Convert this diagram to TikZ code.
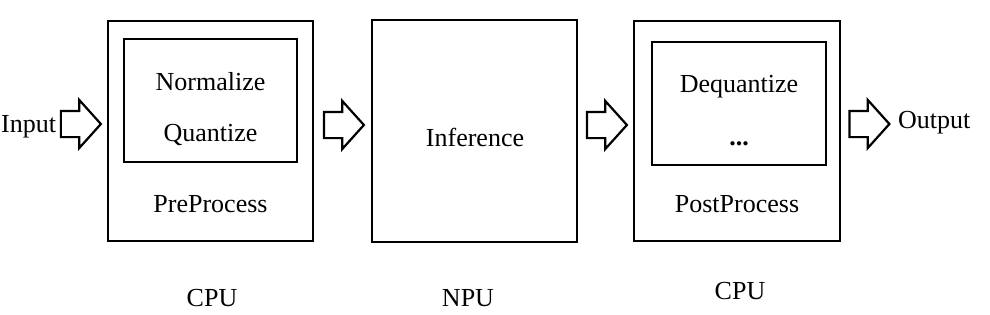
\documentclass[tikz,border=0pt]{standalone}
\usepackage{fontspec}
\setmainfont{Liberation Serif}
\usetikzlibrary{shapes.arrows}
\begin{document}
\begin{tikzpicture}[x=1pt,y=-1pt,
  box/.style={draw,line width=2.6pt,inner sep=0pt},
  blockarrow/.style={draw,line width=2.2pt,single arrow,inner sep=0pt,
    inner ysep=12pt,minimum width=0pt,minimum height=40pt,
    single arrow head extend=11pt,single arrow tip angle=96},
  lbl/.style={anchor=base,inner sep=0pt,font=\fontsize{26}{30}\selectfont}]
\useasboundingbox (0,0) rectangle (990,314);
% boxes
\node[box,minimum width=205pt,minimum height=220pt] (pre) at (210.5,131) {};
\node[box,minimum width=173pt,minimum height=123pt] (prein) at (210.5,100.5) {};
\node[box,minimum width=205pt,minimum height=222pt] (npu) at (474.5,131) {};
\node[box,minimum width=206pt,minimum height=220pt] (post) at (737,131) {};
\node[box,minimum width=174pt,minimum height=123pt] (postin) at (739,103.5) {};
% texts
\node[lbl] (norm) at (210.5,90) {Normalize};
\node[lbl] (quant) at (210.5,141) {Quantize};
\node[lbl] (pp) at (210.5,212) {PreProcess};
\node[lbl] (inf) at (475,146) {Inference};
\node[lbl] (deq) at (739,92) {Dequantize};
\node[lbl] (dots) at (739,145) {\textbf{...}};
\node[lbl] (postp) at (737,212) {PostProcess};
\node[lbl] (cpu1) at (212,306) {CPU};
\node[lbl] (npul) at (468,306) {NPU};
\node[lbl] (cpu2) at (740,299) {CPU};
\node[lbl,anchor=base west] (in) at (1,132) {Input};
\node[lbl,anchor=base west] (out) at (898,128) {Output};
% block arrows
\node[blockarrow] (a1) at (75,124) {};
\node[blockarrow] (a2) at (338,125) {};
\node[blockarrow] (a3) at (601,125) {};
\node[blockarrow] (a4) at (863.5,124) {};
\end{tikzpicture}
\end{document}
